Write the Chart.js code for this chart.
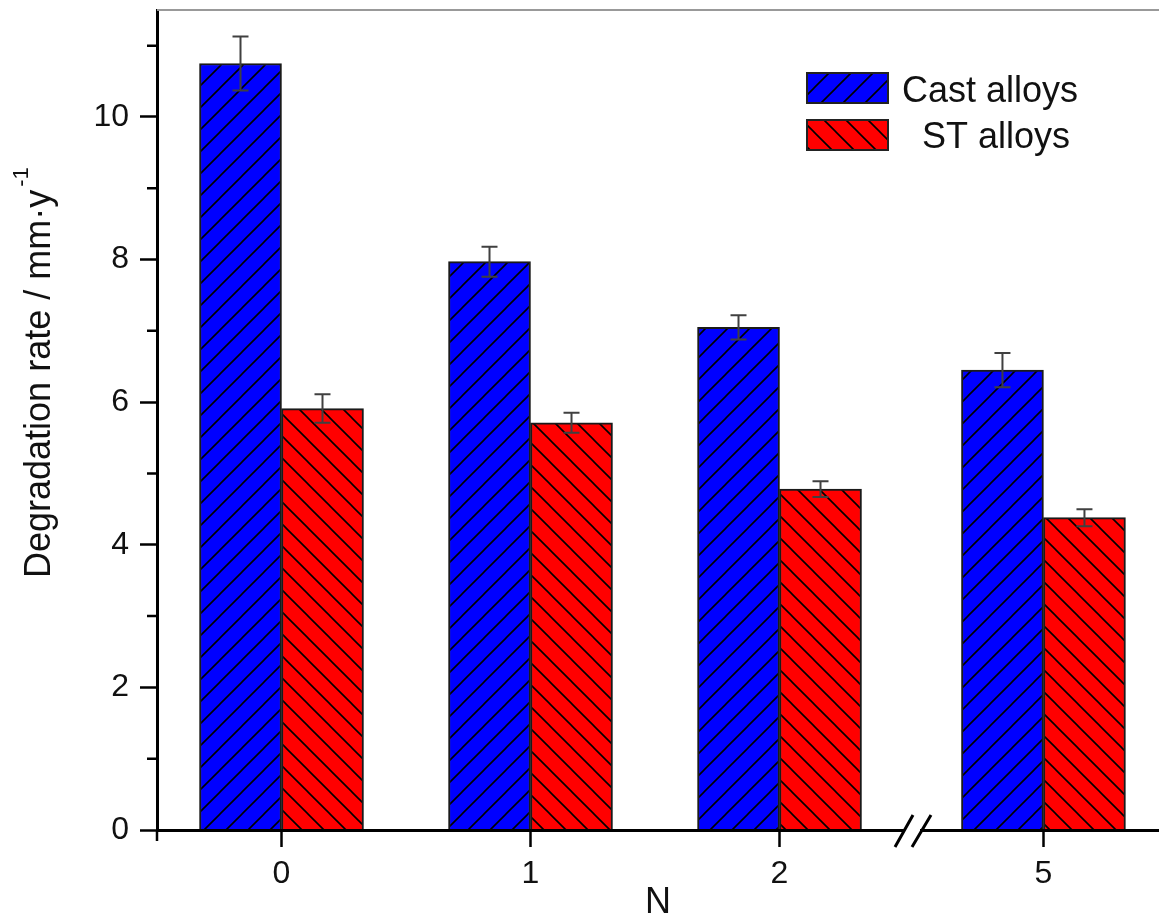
<!DOCTYPE html>
<html>
<head>
<meta charset="utf-8">
<script src="https://cdn.jsdelivr.net/npm/chart.js@4.4.1/dist/chart.umd.min.js"></script>
<style>
html,body{margin:0;padding:0;background:#fff;}
#wrap{width:1159px;height:919px;}
</style>
</head>
<body>
<div id="wrap"><canvas id="myChart"></canvas></div>
<script>
// categories (N) and where they sit on the broken x axis
const categories = ["0", "1", "2", "5"];
const xPositions = [0, 1, 2, 3.06];

const castValues = [10.75, 7.97, 7.05, 6.45];
const castErrors = [0.38, 0.21, 0.17, 0.24];

const stValues = [5.91, 5.71, 4.78, 4.38];
const stErrors = [0.20, 0.14, 0.11, 0.12];

const yTicks = [0, 2, 4, 6, 8, 10];
const yMinorTicks = [1, 3, 5, 7, 9, 11];

const FONT = 'Arial, "Liberation Sans", sans-serif';

function makeHatch(color, dir){
  const s = 22;
  const c = document.createElement("canvas");
  c.width = s; c.height = s;
  const g = c.getContext("2d");
  g.fillStyle = color;
  g.fillRect(0, 0, s, s);
  g.strokeStyle = "#000";
  g.lineWidth = 1.6;
  g.beginPath();
  if(dir === "/"){
    g.moveTo(-2, 2); g.lineTo(2, -2);
    g.moveTo(0, s); g.lineTo(s, 0);
    g.moveTo(s-2, s+2); g.lineTo(s+2, s-2);
  } else {
    g.moveTo(-2, s-2); g.lineTo(2, s+2);
    g.moveTo(0, 0); g.lineTo(s, s);
    g.moveTo(s-2, -2); g.lineTo(s+2, 2);
  }
  g.stroke();
  return g.createPattern(c, "repeat");
}

const ctx = document.getElementById("myChart").getContext("2d");
const castFill = makeHatch("#0000ff", "/");
const stFill = makeHatch("#ff0000", "\\");

function toPoints(vals){
  return vals.map((v, i) => ({x: xPositions[i], y: v}));
}

const errorBars = {
  id: "errorBars",
  afterDatasetsDraw(chart){
    const c = chart.ctx;
    const y = chart.scales.y;
    const errs = [castErrors, stErrors];
    c.save();
    c.strokeStyle = "#404040";
    c.lineWidth = 2;
    chart.data.datasets.forEach((ds, di) => {
      chart.getDatasetMeta(di).data.forEach((bar, i) => {
        const v = ds.data[i].y;
        const top = y.getPixelForValue(v + errs[di][i]);
        const bot = y.getPixelForValue(v - errs[di][i]);
        c.beginPath();
        c.moveTo(bar.x, top); c.lineTo(bar.x, bot);
        c.moveTo(bar.x - 8, top); c.lineTo(bar.x + 8, top);
        c.moveTo(bar.x - 8, bot); c.lineTo(bar.x + 8, bot);
        c.stroke();
      });
    });
    c.restore();
  }
};

const extras = {
  id: "extras",
  afterDraw(chart){
    const c = chart.ctx;
    const a = chart.chartArea;
    const y = chart.scales.y;
    c.save();

    // top frame line
    c.strokeStyle = "#999";
    c.lineWidth = 2;
    c.beginPath();
    c.moveTo(a.left, a.top); c.lineTo(a.right, a.top);
    c.stroke();

    // minor ticks on y, and y axis running a little below x axis
    c.strokeStyle = "#000";
    c.lineWidth = 2.5;
    c.beginPath();
    yMinorTicks.forEach(v => {
      const py = y.getPixelForValue(v);
      c.moveTo(a.left - 10, py); c.lineTo(a.left, py);
    });
    c.moveTo(a.left, a.bottom); c.lineTo(a.left, a.bottom + 11);
    c.stroke();

    // axis break marks between 2 and 5
    c.fillStyle = "#fff";
    c.fillRect(904, a.bottom - 2, 16, 4);
    c.lineWidth = 3;
    c.beginPath();
    c.moveTo(895, a.bottom + 17); c.lineTo(913, a.bottom - 15);
    c.moveTo(912, a.bottom + 17); c.lineTo(931, a.bottom - 15);
    c.stroke();

    // legend
    const items = [
      {fill: castFill, text: "Cast alloys", by: 73, tx: 902, ty: 102},
      {fill: stFill, text: "ST alloys", by: 120, tx: 922, ty: 148}
    ];
    c.font = "36px " + FONT;
    c.textBaseline = "alphabetic";
    c.textAlign = "left";
    items.forEach(it => {
      c.fillStyle = it.fill;
      c.fillRect(807, it.by, 81, 30);
      c.strokeStyle = "#222";
      c.lineWidth = 2;
      c.strokeRect(807, it.by, 81, 30);
      c.fillStyle = "#111";
      c.fillText(it.text, it.tx, it.ty);
    });

    // x title
    c.textAlign = "center";
    c.fillText("N", (a.left + a.right) / 2, 913);

    // y title with superscript
    c.translate(50, 578);
    c.rotate(-Math.PI / 2);
    c.textAlign = "left";
    const main = "Degradation rate / mm\u00b7y";
    c.fillText(main, 0, 0);
    const w = c.measureText(main).width;
    c.font = "22px " + FONT;
    c.fillText("-1", w + 3, -22);
    c.restore();
  }
};

let chart = new Chart(ctx, {
  type: "bar",
  data: {
    datasets: [
      {
        label: "Cast alloys",
        data: toPoints(castValues),
        backgroundColor: castFill,
        borderColor: "#1a1a1a",
        borderWidth: 2
      },
      {
        label: "ST alloys",
        data: toPoints(stValues),
        backgroundColor: stFill,
        borderColor: "#1a1a1a",
        borderWidth: 2
      }
    ]
  },
  options: {
    responsive: true,
    maintainAspectRatio: false,
    devicePixelRatio: 1,
    animation: false,
    layout: {padding: {left: 0, right: 0, top: 10, bottom: 0}},
    datasets: {bar: {barThickness: 82, grouped: true}},
    plugins: {legend: {display: false}, tooltip: {enabled: false}},
    scales: {
      x: {
        type: "linear",
        min: -0.5,
        max: 3.524,
        offset: false,
        afterBuildTicks(s){ s.ticks = xPositions.map(v => ({value: v})); },
        afterFit(s){ s.height = 89; s.paddingLeft = 0; s.paddingRight = 0; },
        ticks: {
          callback: (v, i) => categories[i],
          font: {family: FONT, size: 32},
          color: "#111",
          padding: 8,
          maxRotation: 0
        },
        grid: {offset: false, drawOnChartArea: false, drawTicks: true, tickLength: 17, tickWidth: 2.5, tickColor: "#000"},
        border: {display: true, width: 3, color: "#000", z: 1}
      },
      y: {
        min: 0,
        max: 11.5,
        afterBuildTicks(s){ s.ticks = yTicks.map(v => ({value: v})); },
        afterFit(s){ s.width = 157; s.paddingTop = 0; s.paddingBottom = 0; },
        ticks: {
          font: {family: FONT, size: 32},
          color: "#111",
          padding: 11
        },
        grid: {drawOnChartArea: false, drawTicks: true, tickLength: 17, tickWidth: 2.5, tickColor: "#000"},
        border: {display: true, width: 3, color: "#000", z: 1}
      }
    }
  },
  plugins: [errorBars, extras]
});
</script>
</body>
</html>
